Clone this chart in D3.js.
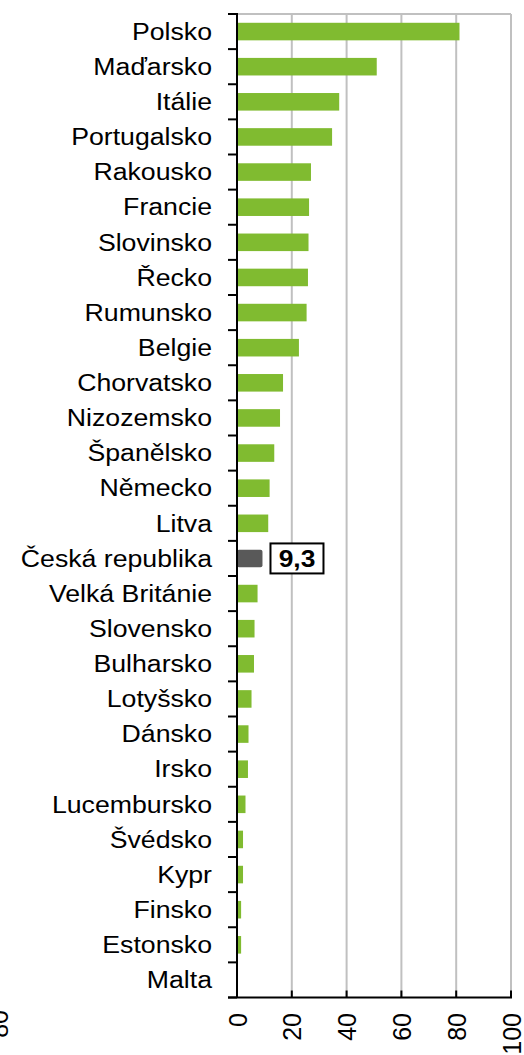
<!DOCTYPE html>
<html>
<head>
<meta charset="utf-8">
<script src="https://cdn.jsdelivr.net/npm/d3@7"></script>
<style>
  html, body { margin: 0; padding: 0; background: #fff; }
  svg { display: block; }
  text { font-family: Arial, "Liberation Sans", sans-serif; fill: #000; }
</style>
</head>
<body>
<script>
// Countries, top to bottom
const countries = [
  "Polsko", "Maďarsko", "Itálie", "Portugalsko", "Rakousko", "Francie",
  "Slovinsko", "Řecko", "Rumunsko", "Belgie", "Chorvatsko", "Nizozemsko",
  "Španělsko", "Německo", "Litva", "Česká republika", "Velká Británie",
  "Slovensko", "Bulharsko", "Lotyšsko", "Dánsko", "Irsko", "Lucembursko",
  "Švédsko", "Kypr", "Finsko", "Estonsko", "Malta"
];
const values = [
  81.2, 51.0, 37.3, 34.7, 27.0, 26.3,
  26.1, 25.9, 25.4, 22.6, 16.8, 15.7,
  13.6, 11.9, 11.4, 9.3, 7.5,
  6.4, 6.2, 5.3, 4.2, 4.0, 3.1,
  2.2, 2.2, 1.5, 1.5, 0
];
const highlighted = "Česká republika";
const xTicks = [0, 20, 40, 60, 80, 100];
const xDomain = [0, 100];

const W = 524, H = 1055;
const FS = 23, SX = 1.16;           // category label font size and horizontal stretch
const TICK_FS = 25;                 // value axis label font size
const plot = { left: 237, right: 511, top: 14, bottom: 997.5 };

const svg = d3.select("body").append("svg").attr("width", W).attr("height", H);

const x = d3.scaleLinear().domain(xDomain).range([plot.left, plot.right]);
const y = d3.scaleBand().domain(countries)
  .range([plot.top, plot.bottom]).paddingInner(0.5).paddingOuter(0.25);

// Vertical gridlines and top frame
svg.append("g").selectAll("line").data(xTicks.filter(t => t > 0)).join("line")
  .attr("x1", d => x(d)).attr("x2", d => x(d))
  .attr("y1", plot.top).attr("y2", plot.bottom)
  .attr("stroke", "#c0c0c0").attr("stroke-width", 2);
svg.append("line")
  .attr("x1", x(0)).attr("x2", x(100)).attr("y1", plot.top).attr("y2", plot.top)
  .attr("stroke", "#c0c0c0").attr("stroke-width", 2);

// Bars
svg.append("g").selectAll("rect").data(countries).join("rect")
  .attr("x", x(0))
  .attr("y", d => y(d))
  .attr("width", (d, i) => x(values[i]) - x(0))
  .attr("height", y.bandwidth())
  .attr("rx", d => d === highlighted ? 2 : 0)
  .attr("fill", d => d === highlighted ? "#595959" : "#80bb30");

// Category axis: line, boundary ticks and labels
const step = y.step();
const y0 = plot.top;
svg.append("g").selectAll("line").data(d3.range(countries.length + 1)).join("line")
  .attr("x1", plot.left - 9).attr("x2", plot.left)
  .attr("y1", i => y0 + i * step).attr("y2", i => y0 + i * step)
  .attr("stroke", "#000").attr("stroke-width", 2);
svg.append("line")
  .attr("x1", plot.left).attr("x2", plot.left)
  .attr("y1", plot.top - 1).attr("y2", plot.bottom)
  .attr("stroke", "#000").attr("stroke-width", 2);

svg.append("g").selectAll("text").data(countries).join("text")
  .attr("transform", d => `translate(212,${y(d) + y.bandwidth() / 2}) scale(${SX},1)`)
  .attr("text-anchor", "end")
  .attr("dy", "0.36em")
  .attr("font-size", FS)
  .text(d => d);

// Value axis at the bottom
svg.append("line")
  .attr("x1", plot.left - 9).attr("x2", plot.right + 1)
  .attr("y1", plot.bottom).attr("y2", plot.bottom)
  .attr("stroke", "#000").attr("stroke-width", 2);
svg.append("g").selectAll("line").data(xTicks).join("line")
  .attr("x1", d => x(d)).attr("x2", d => x(d))
  .attr("y1", plot.bottom).attr("y2", plot.bottom - 7)
  .attr("stroke", "#000").attr("stroke-width", 2);
svg.append("g").selectAll("text").data(xTicks).join("text")
  .attr("transform", d => `translate(${x(d) + 9.5},1013) rotate(-90)`)
  .attr("text-anchor", "end")
  .attr("font-size", TICK_FS)
  .text(d => d);

// Stray tick label partly off the left edge
svg.append("text")
  .attr("transform", `translate(8,1010) rotate(-90)`)
  .attr("text-anchor", "end")
  .attr("font-size", TICK_FS)
  .text(xTicks[4]);

// Value callout for the highlighted bar
const hi = countries.indexOf(highlighted);
const cy = y(highlighted) + y.bandwidth() / 2;
const bx = x(values[hi]) + 8;
svg.append("rect")
  .attr("x", bx).attr("y", cy - 15)
  .attr("width", 53).attr("height", 30)
  .attr("fill", "#fff").attr("stroke", "#000").attr("stroke-width", 2);
svg.append("text")
  .attr("transform", `translate(${bx + 26.5},${cy}) scale(1.1,1)`)
  .attr("text-anchor", "middle")
  .attr("dy", "0.36em")
  .attr("font-size", 24)
  .attr("font-weight", "bold")
  .text(String(values[hi]).replace(".", ","));
</script>
</body>
</html>
